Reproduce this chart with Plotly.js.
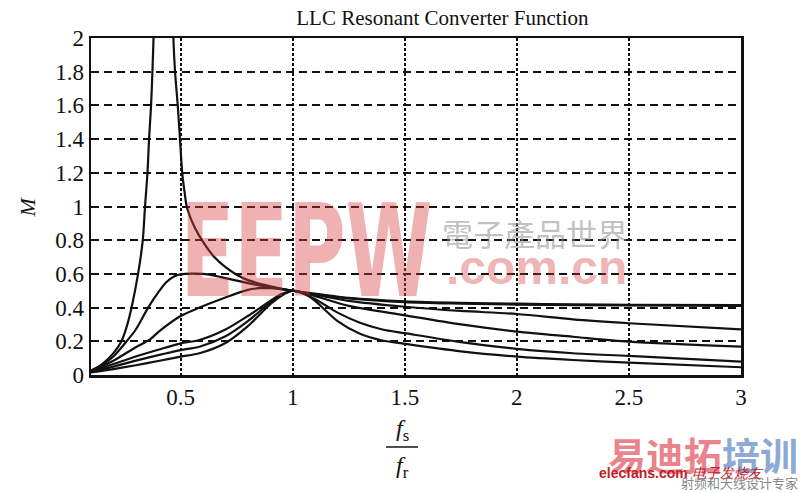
<!DOCTYPE html>
<html><head><meta charset="utf-8">
<script src="https://cdn.plot.ly/plotly-3.0.1.min.js"></script>
<style>html,body{margin:0;padding:0;background:#fff;}#chart{width:800px;height:493px;}</style>
</head><body><div id="chart"></div>
<script>
// Curve A (Q ~ 0): rising branch and falling branch (peak goes off chart)
const fA1 = [0.1, 0.15, 0.2, 0.236, 0.26, 0.281, 0.31, 0.331, 0.341, 0.352, 0.359, 0.368, 0.374, 0.379, 0.385];
const mA1 = [0.025, 0.065, 0.13, 0.2, 0.29, 0.4, 0.6, 0.8, 1.0, 1.2, 1.4, 1.6, 1.8, 2.0, 2.3];
const fA2 = [0.462, 0.4675, 0.475, 0.487, 0.497, 0.507, 0.517, 0.527, 0.545, 0.565, 0.6, 0.65, 0.7, 0.75, 0.8, 0.9, 1.0, 1.1, 1.25, 1.5, 1.75, 2.0, 2.25, 2.5, 3.0];
const mA2 = [2.3, 2.0, 1.8, 1.6, 1.4, 1.2, 1.09, 1.0, 0.93, 0.87, 0.79, 0.7, 0.64, 0.595, 0.563, 0.527, 0.5, 0.483, 0.458, 0.437, 0.428, 0.423, 0.42, 0.417, 0.415];
// Curve B
const fB = [0.1, 0.15, 0.2, 0.259, 0.3, 0.355, 0.4, 0.436, 0.47, 0.5, 0.55, 0.6, 0.65, 0.7, 0.75, 0.8, 0.9, 1.0, 1.1, 1.25, 1.5, 1.75, 2.0, 2.5, 3.0];
const mB = [0.025, 0.06, 0.11, 0.2, 0.27, 0.4, 0.49, 0.55, 0.585, 0.598, 0.602, 0.6, 0.59, 0.575, 0.56, 0.545, 0.52, 0.5, 0.479, 0.455, 0.433, 0.424, 0.418, 0.413, 0.41];
// Curve C
const fC = [0.1, 0.2, 0.3, 0.362, 0.4, 0.5, 0.584, 0.7, 0.8, 0.85, 0.9, 1.0, 1.1, 1.25, 1.5, 1.75, 2.0, 2.25, 2.5, 3.0];
const mC = [0.022, 0.085, 0.165, 0.21, 0.255, 0.35, 0.4, 0.46, 0.505, 0.515, 0.515, 0.5, 0.476, 0.44, 0.405, 0.38, 0.362, 0.33, 0.307, 0.271];
// Curve D
const fD = [0.1, 0.2, 0.3, 0.4, 0.5, 0.584, 0.7, 0.8, 0.9, 0.95, 1.0, 1.1, 1.25, 1.5, 1.75, 2.0, 2.25, 2.5, 3.0];
const mD = [0.02, 0.065, 0.11, 0.15, 0.188, 0.208, 0.27, 0.35, 0.44, 0.48, 0.5, 0.468, 0.41, 0.354, 0.3, 0.257, 0.227, 0.198, 0.168];
// Curve E
const fE = [0.1, 0.2, 0.3, 0.4, 0.5, 0.584, 0.7, 0.8, 0.9, 0.95, 1.0, 1.1, 1.2, 1.3, 1.4, 1.5, 1.75, 2.0, 2.25, 2.5, 3.0];
const mE = [0.018, 0.05, 0.085, 0.118, 0.148, 0.168, 0.23, 0.32, 0.43, 0.475, 0.5, 0.45, 0.37, 0.31, 0.27, 0.248, 0.195, 0.155, 0.129, 0.113, 0.079];
// Curve F
const fF = [0.1, 0.2, 0.3, 0.4, 0.5, 0.584, 0.7, 0.8, 0.9, 0.95, 1.0, 1.05, 1.1, 1.2, 1.3, 1.4, 1.5, 1.75, 2.0, 2.25, 2.5, 3.0];
const mF = [0.015, 0.035, 0.058, 0.083, 0.109, 0.129, 0.19, 0.29, 0.42, 0.47, 0.5, 0.485, 0.44, 0.32, 0.245, 0.205, 0.185, 0.14, 0.109, 0.089, 0.073, 0.046];

const xTicks = [0.5, 1, 1.5, 2, 2.5, 3];
const xTickText = ['0.5', '1', '1.5', '2', '2.5', '3'];

const serif = 'Liberation Serif, Times New Roman, serif';
const lineStyle = {color: '#111', width: 2.2, shape: 'spline', smoothing: 0.8};
const curves = [[fA1, mA1], [fA2, mA2], [fB, mB], [fC, mC], [fD, mD], [fE, mE], [fF, mF]];
const data = curves.map(c => ({x: c[0], y: c[1], type: 'scatter', mode: 'lines', line: lineStyle, hoverinfo: 'skip', showlegend: false}));

const layout = {
  width: 800, height: 493,
  margin: {l: 91, r: 59, t: 38, b: 118},
  paper_bgcolor: '#fff', plot_bgcolor: '#fff',
  title: {text: 'LLC Resonant Converter Function', font: {family: serif, size: 21, color: '#111'}, x: 0.553, xanchor: 'center', y: 0.965, yanchor: 'middle'},
  xaxis: {range: [0.1, 3], tickvals: xTicks, ticktext: xTickText, showgrid: true, gridcolor: '#111', griddash: '3px,2px', gridwidth: 2,
    showline: true, mirror: true, linecolor: '#111', linewidth: 2.5, zeroline: false, ticks: '',
    tickfont: {family: serif, size: 23, color: '#111'}},
  yaxis: {range: [0, 2], dtick: 0.2, showgrid: true, gridcolor: '#111', griddash: '8px,5px', gridwidth: 2,
    showline: true, mirror: true, linecolor: '#111', linewidth: 2.5, zeroline: false, ticks: '',
    tickfont: {family: serif, size: 23, color: '#111'}},
  shapes: [
    {type: 'line', xref: 'paper', yref: 'paper', x0: 0.454, x1: 0.503, y0: -0.2136, y1: -0.2136, line: {color: '#111', width: 1.5}}
  ],
  annotations: [
    {text: '<i>M</i>', xref: 'paper', yref: 'paper', x: -0.097, y: 0.5, xanchor: 'center', yanchor: 'middle', textangle: -90, showarrow: false, font: {family: serif, size: 22, color: '#111'}},
    {text: '<i>f</i><sub>s</sub>', xref: 'paper', yref: 'paper', x: 0.479, y: -0.163, xanchor: 'center', yanchor: 'middle', showarrow: false, font: {family: serif, size: 24, color: '#111'}},
    {text: '<i>f</i><sub>r</sub>', xref: 'paper', yref: 'paper', x: 0.479, y: -0.272, xanchor: 'center', yanchor: 'middle', showarrow: false, font: {family: serif, size: 24, color: '#111'}},
    {text: '<b>EEPW</b>', xref: 'paper', yref: 'paper', x: 0.331, y: 0.365, xanchor: 'center', yanchor: 'middle', showarrow: false, font: {family: 'Liberation Sans Narrow, DejaVu Sans Condensed, sans-serif', size: 128, color: 'rgba(215,60,60,0.40)'}},
    {text: '電子產品世界', xref: 'paper', yref: 'paper', x: 0.683, y: 0.424, xanchor: 'center', yanchor: 'middle', showarrow: false, font: {family: 'Noto Sans CJK TC', size: 31, color: 'rgba(140,140,140,0.55)'}},
    {text: '<b>.com.cn</b>', xref: 'paper', yref: 'paper', x: 0.686, y: 0.32, xanchor: 'center', yanchor: 'middle', showarrow: false, font: {family: 'Liberation Sans, Arial, sans-serif', size: 48, color: 'rgba(215,60,60,0.40)'}},
    {text: '<b><span style="color:rgba(230,110,120,0.85)">易迪拓</span><span style="color:rgba(120,155,205,0.85)">培训</span></b>', xref: 'paper', yref: 'paper', x: 1.091, y: -0.232, xanchor: 'right', yanchor: 'middle', showarrow: false, font: {family: 'Noto Sans CJK SC', size: 38}},
    {text: '<b>elecfans.com</b> <i>电子发烧友</i>', xref: 'paper', yref: 'paper', x: 0.778, y: -0.29, xanchor: 'left', yanchor: 'middle', showarrow: false, font: {family: 'Liberation Sans Narrow, sans-serif', size: 14, color: '#c0202a'}},
    {text: '射频和天线设计专家', xref: 'paper', yref: 'paper', x: 1.091, y: -0.352, xanchor: 'right', yanchor: 'bottom', showarrow: false, font: {family: 'Noto Sans CJK SC', size: 13, color: '#888'}}
  ]
};
Plotly.newPlot('chart', data, layout, {displayModeBar: false, staticPlot: true}).then(() => {
  document.querySelectorAll('.annotation-text').forEach(t => {
    if (t.textContent === 'EEPW') {
      t.setAttribute('textLength', '252');
      t.setAttribute('lengthAdjust', 'spacingAndGlyphs');
    }
  });
});
</script></body></html>
